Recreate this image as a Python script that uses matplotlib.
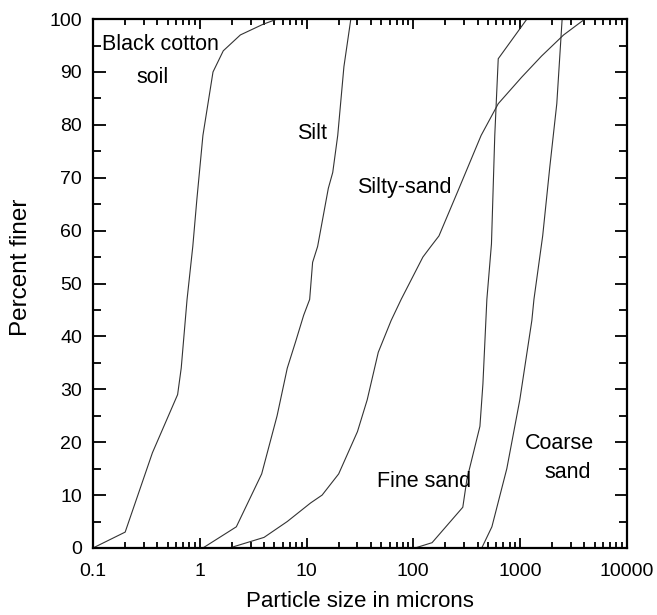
import numpy as np
import matplotlib.pyplot as plt
from matplotlib.ticker import MultipleLocator, LogLocator, FixedLocator, FixedFormatter, NullFormatter

plt.rcParams['font.family'] = ['Liberation Sans', 'DejaVu Sans']

# particle size (microns) vs percent finer
bc_x = [0.1, 0.2, 0.36, 0.62, 0.67, 0.76, 0.86, 0.94, 1.07, 1.33, 1.66, 2.4, 3.9, 5.3]
bc_y = [0, 3, 18, 29, 34, 47, 57, 66, 78, 90, 94, 97, 99, 100]

silt_x = [1.07, 2.2, 3.8, 5.3, 6.6, 7.9, 9.4, 10.7, 11.4, 12.7, 16, 17.6, 19.6, 22.4, 26]
silt_y = [0, 4, 14, 25, 34, 39, 44, 47, 54, 57, 68, 71, 78, 91, 100]

ss_x = [1.9, 4, 6.6, 10.9, 14, 20, 30, 37, 47, 62, 77, 123, 146, 174, 262, 432, 625, 1035, 1590, 2560, 4050]
ss_y = [0, 2, 5, 8.5, 10, 14, 22, 28, 37, 43, 47, 55, 57, 59, 67.5, 78, 84, 89, 93, 97, 100]

fs_x = [104, 150, 291, 318, 421, 449, 489, 540, 580, 625, 1160]
fs_y = [0, 1, 7.7, 13, 23, 31, 47, 57.5, 78, 92.5, 100]

cs_x = [438, 545, 752, 995, 1290, 1350, 1630, 1900, 2210, 2480]
cs_y = [0, 4, 15, 28, 43, 47, 59, 72, 84, 100]

xticks = [0.1, 1, 10, 100, 1000, 10000]
xtick_labels = ['0.1', '1', '10', '100', '1000', '10000']

fig = plt.figure(figsize=(6.57, 6.15), dpi=100)
ax = fig.add_axes([0.1416, 0.109, 0.8124, 0.860])

for xs, ys in [(bc_x, bc_y), (silt_x, silt_y), (ss_x, ss_y), (fs_x, fs_y), (cs_x, cs_y)]:
    ax.plot(xs, ys, color='#333333', linewidth=0.8)

ax.set_xscale('log')
ax.set_xlim(0.1, 10000)
ax.set_ylim(0, 100)

ax.xaxis.set_major_locator(FixedLocator(xticks))
ax.xaxis.set_major_formatter(FixedFormatter(xtick_labels))
ax.xaxis.set_minor_locator(LogLocator(base=10, subs=np.arange(2, 10), numticks=20))
ax.xaxis.set_minor_formatter(NullFormatter())
ax.yaxis.set_major_locator(MultipleLocator(10))
ax.yaxis.set_minor_locator(MultipleLocator(5))

ax.tick_params(which='both', direction='in', top=True, right=True,
               labelsize=14, width=1.3, color='black')
ax.tick_params(axis='y', which='major', length=9, pad=8)
ax.tick_params(axis='y', which='minor', length=5.5)
ax.tick_params(axis='x', which='major', length=7, pad=11)
ax.tick_params(axis='x', which='minor', length=4)
for s in ax.spines.values():
    s.set_linewidth(1.6)

ax.set_xlabel('Particle size in microns', fontsize=16, labelpad=8)
ax.set_ylabel('Percent finer', fontsize=17.5)
ax.yaxis.set_label_coords(-0.114, 0.53)

fs = 15.5
ax.text(0.121, 95.1, 'Black cotton', fontsize=fs, ha='left', va='center')
ax.text(0.365, 89, 'soil', fontsize=fs, ha='center', va='center')
ax.text(11.2, 78.4, 'Silt', fontsize=fs, ha='center', va='center')
ax.text(83, 68.2, 'Silty-sand', fontsize=fs, ha='center', va='center')
ax.text(126, 12.5, 'Fine sand', fontsize=fs, ha='center', va='center')
ax.text(2340, 19.8, 'Coarse', fontsize=fs, ha='center', va='center')
ax.text(2770, 14.2, 'sand', fontsize=fs, ha='center', va='center')

fig.savefig('out.png', dpi=100)
